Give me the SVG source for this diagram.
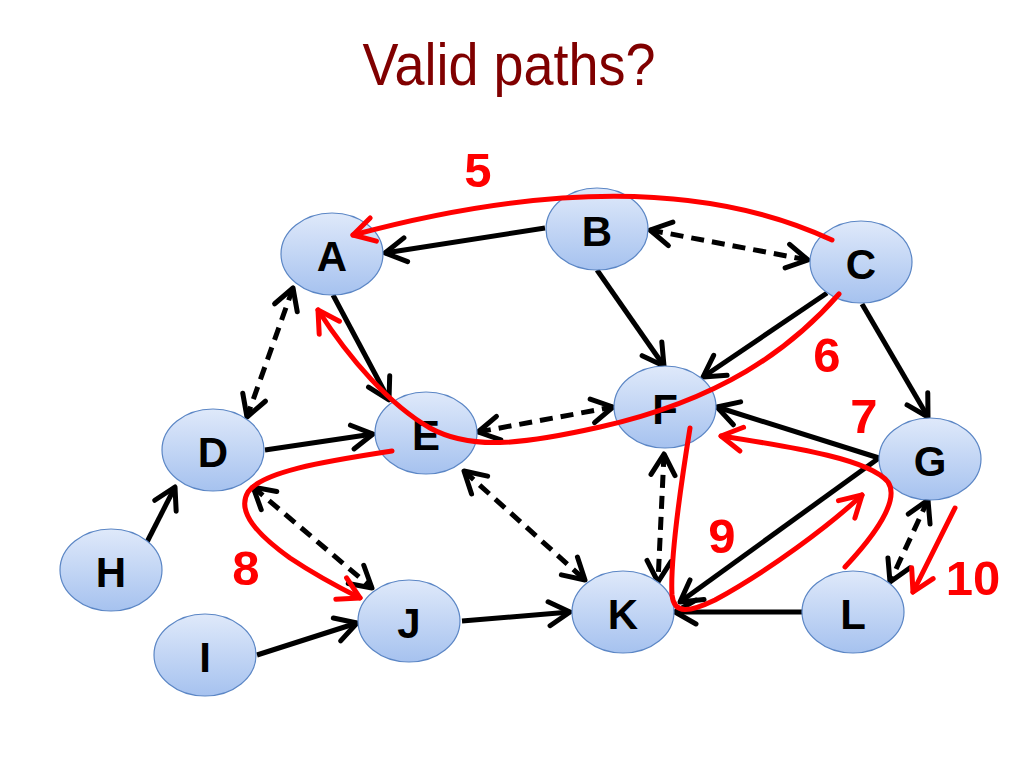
<svg xmlns="http://www.w3.org/2000/svg" width="1024" height="768" viewBox="0 0 1024 768">
<style>
.node ellipse{fill:url(#ng);stroke:#5b86c5;stroke-width:1.2}
.node text{font-family:"Liberation Sans",Arial,sans-serif;font-weight:bold;font-size:42px;fill:#000;text-anchor:middle}
.e{fill:none;stroke:#000;stroke-width:5;marker-end:url(#ab)}
.d{fill:none;stroke:#000;stroke-width:5;stroke-dasharray:13 8;marker-end:url(#ab);marker-start:url(#ab)}
.r{fill:none;stroke:#ff0000;stroke-width:5;stroke-linecap:round;marker-end:url(#ar)}
.num{font-family:"Liberation Sans",Arial,sans-serif;font-weight:bold;font-size:49px;fill:#ff0000;text-anchor:middle}
</style>
<defs>
<linearGradient id="ng" x1="0" y1="0" x2="0" y2="1">
<stop offset="0" stop-color="#dfe9fa"/>
<stop offset="1" stop-color="#a6c2ef"/>
</linearGradient>
<marker id="ab" viewBox="-26 -16 30 32" markerWidth="30" markerHeight="32" refX="0" refY="0" orient="auto-start-reverse" markerUnits="userSpaceOnUse">
<path d="M-21,-12 L0,0 L-21,12" fill="none" stroke="#000" stroke-width="5" stroke-linecap="round" stroke-linejoin="round"/>
</marker>
<marker id="ar" viewBox="-26 -16 30 32" markerWidth="30" markerHeight="32" refX="0" refY="0" orient="auto" markerUnits="userSpaceOnUse">
<path d="M-21,-12 L0,0 L-21,12" fill="none" stroke="#ff0000" stroke-width="5" stroke-linecap="round" stroke-linejoin="round"/>
</marker>
</defs>
<rect width="1024" height="768" fill="#fff"/>
<text x="509" y="85" font-family="'Liberation Sans',Arial,sans-serif" font-size="60" fill="#800000" text-anchor="middle" textLength="293" lengthAdjust="spacingAndGlyphs">Valid paths?</text>
<g id="connectors">
<line class="e" x1="545" y1="228" x2="385" y2="253"/>
<line class="e" x1="333" y1="295" x2="389" y2="400"/>
<line class="e" x1="597" y1="270" x2="664" y2="366"/>
<line class="e" x1="827" y1="293" x2="703" y2="377"/>
<line class="e" x1="862" y1="304" x2="928" y2="417"/>
<line class="e" x1="879" y1="458" x2="717" y2="407"/>
<line class="e" x1="879" y1="458" x2="680" y2="602"/>
<line class="e" x1="803" y1="612" x2="675" y2="612"/>
<line class="e" x1="265" y1="450" x2="373" y2="434"/>
<line class="e" x1="147" y1="542" x2="175" y2="487"/>
<line class="e" x1="257" y1="655" x2="357" y2="623"/>
<line class="e" x1="462" y1="621" x2="570" y2="612"/>
<line class="d" x1="650" y1="230" x2="808" y2="260"/>
<line class="d" x1="293" y1="288" x2="247" y2="417"/>
<line class="d" x1="478" y1="432" x2="613" y2="407"/>
<line class="d" x1="253" y1="487" x2="372" y2="588"/>
<line class="d" x1="464" y1="471" x2="585" y2="580"/>
<line class="d" x1="664" y1="454" x2="658" y2="582"/>
<line class="d" x1="928" y1="500" x2="890" y2="582"/>
</g>
<g id="node-A" class="node"><ellipse cx="332" cy="254" rx="51" ry="41"/><text x="332" y="271">A</text></g>
<g id="node-B" class="node"><ellipse cx="597" cy="229" rx="51" ry="41"/><text x="597" y="246">B</text></g>
<g id="node-C" class="node"><ellipse cx="861" cy="262" rx="51" ry="41"/><text x="861" y="279">C</text></g>
<g id="node-D" class="node"><ellipse cx="213" cy="450" rx="51" ry="41"/><text x="213" y="467">D</text></g>
<g id="node-E" class="node"><ellipse cx="426" cy="433" rx="51" ry="41"/><text x="426" y="450">E</text></g>
<g id="node-F" class="node"><ellipse cx="665" cy="407" rx="51" ry="41"/><text x="665" y="424">F</text></g>
<g id="node-G" class="node"><ellipse cx="930" cy="459" rx="51" ry="41"/><text x="930" y="476">G</text></g>
<g id="node-H" class="node"><ellipse cx="111" cy="570" rx="51" ry="41"/><text x="111" y="587">H</text></g>
<g id="node-I" class="node"><ellipse cx="205" cy="655" rx="51" ry="41"/><text x="205" y="672">I</text></g>
<g id="node-J" class="node"><ellipse cx="409" cy="621" rx="51" ry="41"/><text x="409" y="638">J</text></g>
<g id="node-K" class="node"><ellipse cx="623" cy="612" rx="51" ry="41"/><text x="623" y="629">K</text></g>
<g id="node-L" class="node"><ellipse cx="853" cy="612" rx="51" ry="41"/><text x="853" y="629">L</text></g>
<g id="paths">
<path class="r" d="M832,240 Q650,155 353,235"/>
<path class="r" d="M839,294 C790,350 720,400 600,427 C520,445 470,450 430,428 C390,405 350,360 318,310"/>
<path class="r" d="M845,567 C875,535 900,500 888,482 C870,460 800,448 721,436"/>
<path class="r" d="M392,451 C320,462 262,472 248,492 C236,512 258,535 290,558 C320,578 340,588 360,598"/>
<path class="r" d="M690,428 C680,490 670,560 672,595 C674,615 690,612 715,600 C770,570 830,525 862,495"/>
<path class="r" d="M955,508 L913,592"/>
<text class="num" x="478" y="187">5</text>
<text class="num" x="827" y="372">6</text>
<text class="num" x="864" y="433">7</text>
<text class="num" x="246" y="585">8</text>
<text class="num" x="722" y="553">9</text>
<text class="num" x="973" y="595">10</text>
</g>
</svg>
